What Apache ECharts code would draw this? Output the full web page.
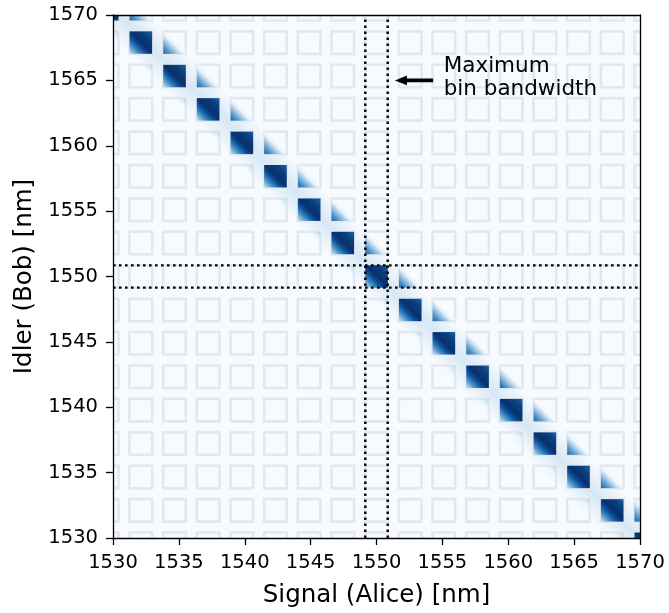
<!DOCTYPE html>
<html><head><meta charset="utf-8">
<script src="https://cdn.jsdelivr.net/npm/echarts@6/dist/echarts.min.js"></script>
<style>html,body{margin:0;padding:0;background:#fff}#c{width:669px;height:613px}</style>
</head><body><div id="c"></div>
<script>
// ---- data ----
const axisMin = 1530, axisMax = 1570, axisInterval = 5;
// filter bin centre wavelengths (nm), same for signal and idler
const binCenters = [1529.56, 1532.11, 1534.67, 1537.22, 1539.78, 1542.33, 1544.89, 1547.44, 1550.00,
                    1552.56, 1555.11, 1557.67, 1560.22, 1562.78, 1565.33, 1567.89, 1570.44];
const binBandwidth = 1.72;                // nm
// relative JSI weight of the correlated (diagonal) bins
const diagIntensity  = [1,1,1,1,1,1,1,1,1,1,1,1,1,1,1,1,1];
// neighbouring bins: signal one bin up (upper side of the stripe) / idler one bin down
const upperIntensity = [0.95,0.95,0.95,0.95,0.95,0.95,0.95,0.95,0.95,0.95,0.95,0.95,0.95,0.95,0.95,0.95];
const lowerIntensity = [0.6,0.6,0.6,0.6,0.6,0.6,0.6,0.6,0.6,0.6,0.6,0.6,0.6,0.6,0.6,0.6];
// energy-conservation stripe: signal + idler (nm) and its width
const stripeSum = 3100.2;
const stripeWidth = 2.3;
// maximum bin bandwidth markers
const maxBandEdges = [1549.15, 1550.85];
// annotation
const annotationArrow = [[1554.3, 1565.0], [1551.4, 1565.0]];
const annotationTextAt = [1555.1, 1565.2];
const annotationText = 'Maximum\nbin bandwidth';

const FONT = 'DejaVu Sans';
const N = binCenters.length;
const hw = binBandwidth / 2;

const outlineData = [];
for (let i = 0; i < N; i++) for (let j = 0; j < N; j++) outlineData.push([binCenters[i], binCenters[j]]);

const blobData = [];
for (let i = 0; i < N; i++) blobData.push([binCenters[i], binCenters[N - 1 - i], diagIntensity[i], 0]);
for (let i = 0; i < N - 1; i++) blobData.push([binCenters[i + 1], binCenters[N - 1 - i], upperIntensity[i], 1]);
for (let i = 0; i < N - 1; i++) blobData.push([binCenters[i], binCenters[N - 2 - i], lowerIntensity[i], 2]);

const STOPS = [
  [[0, '#d2e3f3'], [0.1, '#8dbfdf'], [0.24, '#3a84c0'], [0.38, '#0c509a'], [0.52, '#08306b'], [0.75, '#083e7c'], [1, '#1b5fa3']],
  [[0, '#175ea2'], [0.15, '#3f8ac3'], [0.3, '#95c0e0'], [0.45, 'rgba(232,241,250,0.9)'], [0.58, 'rgba(247,251,255,0)'], [1, 'rgba(247,251,255,0)']],
  [[0, 'rgba(247,251,255,0)'], [0.72, 'rgba(247,251,255,0)'], [0.86, 'rgba(205,223,240,0.7)'], [1, 'rgba(150,195,225,0.95)']]
];

const chart = echarts.init(document.getElementById('c'), null, {renderer: 'canvas'});

const fmt = v => String(v);
const axisCommon = {
  type: 'value', min: axisMin, max: axisMax, interval: axisInterval, z: 20,
  splitLine: {show: false},
  axisLine: {show: true, onZero: false, lineStyle: {color: '#000', width: 1.3}},
  axisTick: {show: true, inside: false, length: 7, lineStyle: {color: '#000', width: 1.3}},
  axisLabel: {show: true, color: '#000', fontFamily: FONT, fontSize: 19.5, formatter: fmt},
  nameLocation: 'middle',
  nameTextStyle: {color: '#000', fontFamily: FONT, fontSize: 24.5}
};
const frameAxis = {
  type: 'value', min: axisMin, max: axisMax, interval: axisInterval, z: 20,
  splitLine: {show: false}, axisTick: {show: false}, axisLabel: {show: false},
  axisLine: {show: true, onZero: false, lineStyle: {color: '#000', width: 1.3}}
};

const series = [
  { // stripe
    type: 'custom', z: 1, clip: true, data: [[stripeSum, stripeWidth]],
    renderItem: function (params, api) {
      const s = api.value(0), w = api.value(1);
      const a = api.coord([(s - w) / 2, (s - w) / 2]);
      const b = api.coord([(s + w) / 2, (s + w) / 2]);
      const cs = params.coordSys;
      return {type: 'rect', shape: {x: cs.x, y: cs.y, width: cs.width, height: cs.height},
        style: {fill: {type: 'linear', global: true, x: a[0], y: a[1], x2: b[0], y2: b[1],
          colorStops: [{offset: 0, color: 'rgba(214,230,244,0)'}, {offset: 0.5, color: 'rgba(214,231,245,1)'}, {offset: 1, color: 'rgba(214,230,244,0)'}]}}};
    }
  },
  { // bin outlines
    type: 'custom', z: 2, clip: true, data: outlineData,
    renderItem: function (params, api) {
      const p1 = api.coord([api.value(0) - hw, api.value(1) + hw]);
      const p2 = api.coord([api.value(0) + hw, api.value(1) - hw]);
      return {type: 'rect', shape: {x: p1[0], y: p1[1], width: p2[0] - p1[0], height: p2[1] - p1[1]},
        style: {fill: 'rgba(0,0,0,0)', stroke: '#e3e8ee', lineWidth: 2.6}};
    }
  },
  { // correlated bins
    type: 'custom', z: 3, clip: true, data: blobData,
    renderItem: function (params, api) {
      const p1 = api.coord([api.value(0) - hw, api.value(1) + hw]);
      const p2 = api.coord([api.value(0) + hw, api.value(1) - hw]);
      const kind = api.value(3);
      return {type: 'rect', shape: {x: p1[0], y: p1[1], width: p2[0] - p1[0], height: p2[1] - p1[1]},
        style: {opacity: api.value(2), fill: {type: 'linear', global: true, x: p1[0], y: p2[1], x2: p2[0], y2: p1[1],
          colorStops: STOPS[kind].map(s => ({offset: s[0], color: s[1]}))}}};
    }
  }
];
maxBandEdges.forEach(e => {
  series.push({type: 'line', z: 5, symbol: 'none', silent: true, clip: true, data: [[e, axisMin], [e, axisMax]],
    lineStyle: {color: '#000', width: 2.4, type: [2.6, 3.4]}});
  series.push({type: 'line', z: 5, symbol: 'none', silent: true, clip: true, data: [[axisMin, e], [axisMax, e]],
    lineStyle: {color: '#000', width: 2.4, type: [2.6, 3.4]}});
});
series.push({ // annotation
  type: 'custom', z: 6, clip: false, data: [[annotationArrow[0][0], annotationArrow[0][1], annotationArrow[1][0], annotationArrow[1][1]]],
  renderItem: function (params, api) {
    const t = api.coord([api.value(0), api.value(1)]);
    const h = api.coord([api.value(2), api.value(3)]);
    const headL = 12, headH = 4.8, shaft = 1.9;
    const txt = api.coord(annotationTextAt);
    return {type: 'group', children: [
      {type: 'polygon', shape: {points: [[t[0], t[1] - shaft], [h[0] + headL, h[1] - shaft], [h[0] + headL, h[1] - headH], [h[0], h[1]], [h[0] + headL, h[1] + headH], [h[0] + headL, h[1] + shaft], [t[0], t[1] + shaft]]},
        style: {fill: '#000'}},
      {type: 'text', x: txt[0], y: txt[1], style: {text: annotationText, fill: '#000', font: '21.5px "DejaVu Sans"', lineHeight: 23.5, align: 'left', verticalAlign: 'middle'}}
    ]};
  }
});

chart.setOption({
  animation: false,
  backgroundColor: '#fff',
  grid: {left: 113, top: 15, width: 527, height: 527, show: true, backgroundColor: '#f7fbff', borderWidth: 0},
  xAxis: [Object.assign({}, axisCommon, {position: 'bottom', name: 'Signal (Alice) [nm]', nameGap: 45,
            axisLabel: Object.assign({}, axisCommon.axisLabel, {margin: 15})}),
          Object.assign({}, frameAxis, {position: 'top'})],
  yAxis: [Object.assign({}, axisCommon, {position: 'left', name: 'Idler (Bob) [nm]', nameGap: 73,
            axisLabel: Object.assign({}, axisCommon.axisLabel, {margin: 15})}),
          Object.assign({}, frameAxis, {position: 'right'})],
  series: series
});
</script></body></html>
